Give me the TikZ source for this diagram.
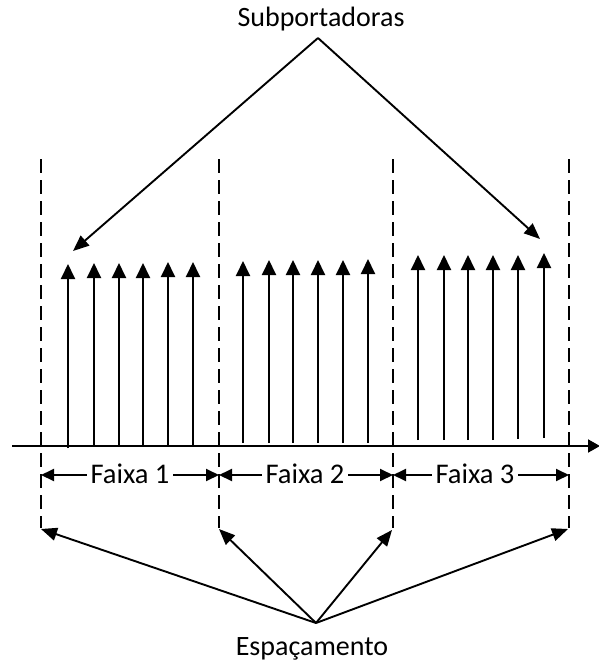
\documentclass[tikz,border=0pt]{standalone}
\usepackage{fontspec}
\setmainfont{Carlito}
\usetikzlibrary{arrows.meta}
\begin{document}
\begin{tikzpicture}[x=1pt,y=-1pt,
  line width=1.9pt,
  lbl/.style={font=\fontsize{28}{32}\selectfont, inner sep=0pt, anchor=base},
  flbl/.style={font=\fontsize{28.5}{32}\selectfont, inner xsep=3pt, inner ysep=0pt, anchor=base},
  subc/.style={-{Triangle[width=14pt,length=15pt]}},
  call/.style={-{Triangle[width=13pt,length=16pt]}},
  dimarr/.style={-{Triangle[width=12pt,length=13pt]}},
  sepline/.style={dash pattern=on 14pt off 7pt},
]
\useasboundingbox (0,0) rectangle (599,666);

% frequency axis
\coordinate (ax0) at (12,446);
\coordinate (ax1) at (600,446);
\draw[-{Triangle[width=13pt,length=12pt]}] (ax0) -- (ax1);

% band separators (dashed)
\foreach \i/\x in {1/41,2/219,3/393,4/569}{
  \coordinate (t\i) at (\x,159);
  \coordinate (b\i) at (\x,528);
  \coordinate (d\i) at (\x,475);
  \draw[sepline] (t\i) -- (b\i);
}

% subcarriers
\foreach \n/\x/\top/\bot in {
  a1/68/264/448, a2/94/263/446, a3/119/263/446, a4/143/263/446, a5/168/262/446, a6/193/262/446,
  c1/243/261/443, c2/269/260/443, c3/293/260/443, c4/318/260/443, c5/343/260/443, c6/368/259/443,
  e1/418/255/440, e2/444/255/440, e3/468/255/440, e4/493/255/440, e5/518/255/439, e6/544/253/438}{
  \coordinate (\n b) at (\x,\bot);
  \coordinate (\n t) at (\x,\top);
  \draw[subc] (\n b) -- (\n t);
}

% labels of the bands
\node[flbl] (f1) at (130,483) {Faixa 1};
\node[flbl] (f2) at (305,483) {Faixa 2};
\node[flbl] (f3) at (475,483) {Faixa 3};
\draw[dimarr] (f1.west |- d1) -- (d1);
\draw[dimarr] (f1.east |- d2) -- (d2);
\draw[dimarr] (f2.west |- d2) -- (d2);
\draw[dimarr] (f2.east |- d3) -- (d3);
\draw[dimarr] (f3.west |- d3) -- (d3);
\draw[dimarr] (f3.east |- d4) -- (d4);

% Subportadoras callout
\node[lbl] (sp) at (321,27) {Subportadoras};
\coordinate (sapex) at (318,38);
\coordinate (stip1) at (73,251);
\coordinate (stip2) at (540,239);
\draw[call] (sapex) -- (stip1);
\draw[call] (sapex) -- (stip2);

% Espacamento callout
\node[lbl] (es) at (312,655) {Espaçamento};
\coordinate (eapex) at (316,623);
\coordinate (etip1) at (41,529);
\coordinate (etip2) at (219,529);
\coordinate (etip3) at (392,530);
\coordinate (etip4) at (568,529);
\draw[call] (eapex) -- (etip1);
\draw[call] (eapex) -- (etip2);
\draw[call] (eapex) -- (etip3);
\draw[call] (eapex) -- (etip4);
\end{tikzpicture}
\end{document}
